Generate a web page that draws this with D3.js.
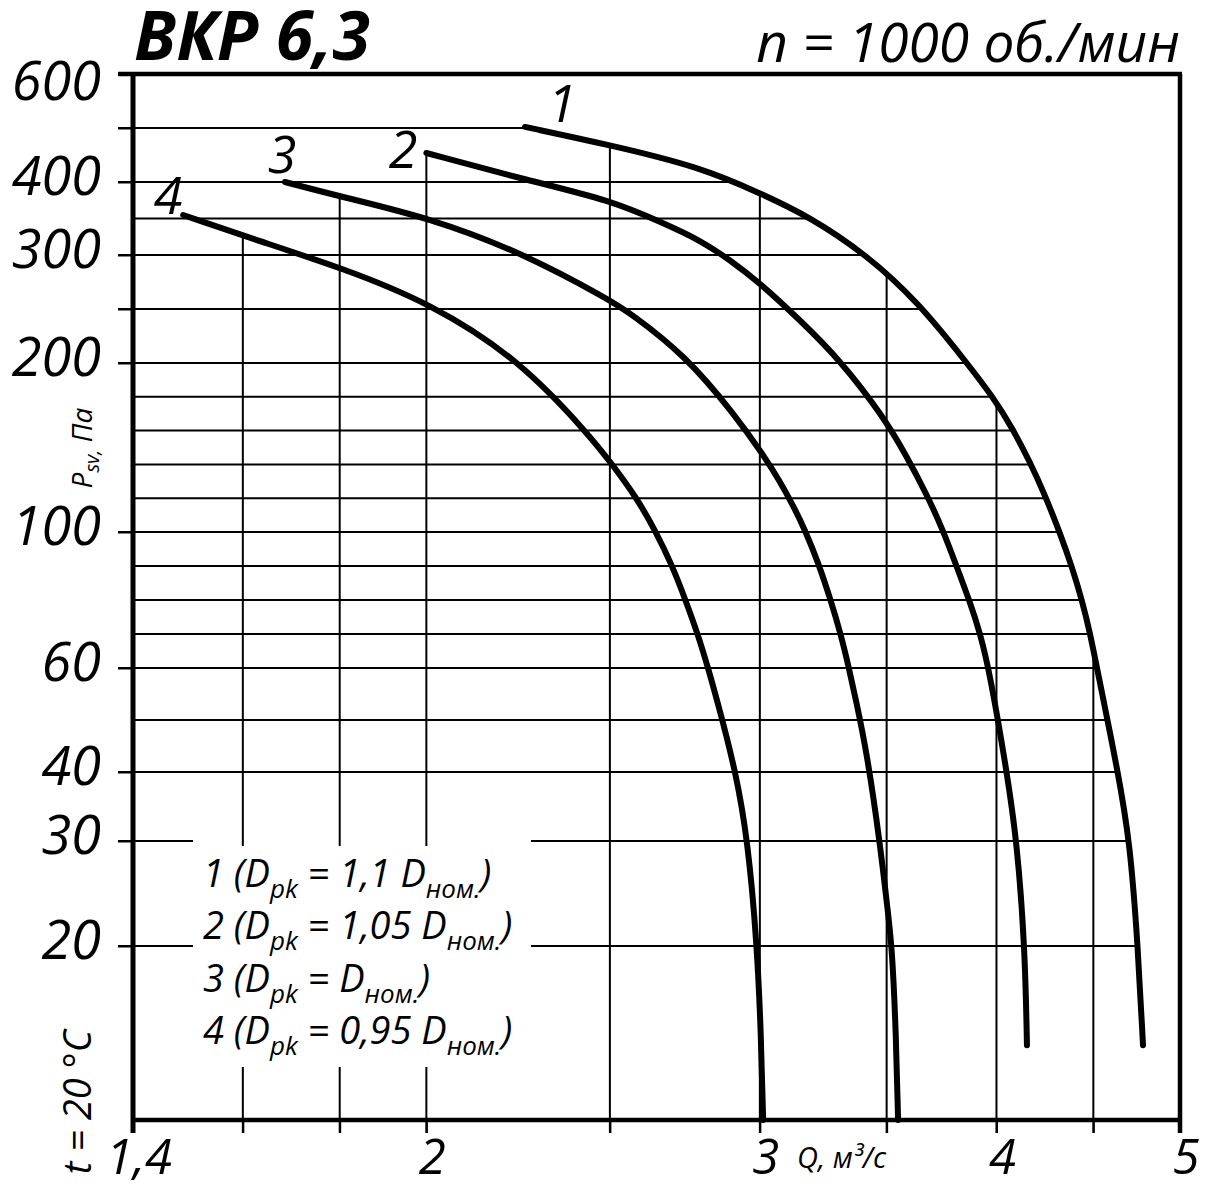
<!DOCTYPE html>
<html><head><meta charset="utf-8">
<script src="https://cdn.jsdelivr.net/npm/d3@7"></script>
<style>
html,body{margin:0;padding:0;background:#fff;}
svg{display:block;}
text{font-family:"Open Sans","Noto Sans",sans-serif;font-style:italic;fill:#000;white-space:pre;}
</style></head><body>
<svg id="chart" width="1210" height="1189"></svg>
<script>
// ---------- data ----------
const curveNames = ["1","2","3","4"];
const legendCoef = ["1,1 ","1,05 ","","0,95 "];

const q1 = [2.255,2.500,2.789,3.000,3.189,3.417,3.636,3.859,3.983,4.081,4.166,4.243,4.321,4.385,4.438,4.482,4.520,4.637,4.705,4.751,4.780];
const p1 = [502,468.5,427.8,384.9,352.1,300,256.5,200,179.9,160.9,141.4,121.9,99.7,89.7,80,70.3,60,40,29.9,19.9,14.3];

const q2 = [2.000,2.269,2.500,2.667,2.789,2.893,3.000,3.150,3.307,3.485,3.588,3.676,3.748,3.812,3.873,3.921,3.968,4.051,4.101,4.141,4.151];
const p2 = [453.7,401.9,375.3,343.8,320.5,295.4,274.1,239.8,202.8,168.6,144.4,121.9,101.2,89.7,79.4,70.3,59.0,40,29.9,19.9,14.3];

const q3 = [1.684,1.805,2.009,2.249,2.500,2.562,2.739,2.911,3.015,3.071,3.127,3.169,3.220,3.271,3.311,3.343,3.372,3.417,3.472,3.506,3.523,3.540,3.549];
const p3 = [400,379.5,350.7,302.7,258.3,246.3,207.4,169.2,145.0,130.8,114.8,101.2,91.2,79.7,69.7,60,53.8,43.7,29.8,23.1,19.9,15.0,10];

const q4 = [1.488,1.614,1.805,2.009,2.241,2.443,2.506,2.581,2.641,2.696,2.742,2.783,2.817,2.848,2.914,2.957,2.990,3.004,3.012];
const p4 = [354.8,323.3,288.0,255.6,202.8,156.2,140.2,120.7,101.2,90.3,79.7,69.7,60,53.8,40,29.9,20,15.0,10];

const labelQ = [2.359,1.944,1.678,1.461];
const labelP = [511,426,416,356];

const xTickLabels = [1.4,2,3,4,5];
const xGrid = [1.6,1.8,2,2.5,3,3.5,4,4.5];
const yTickLabels = [600,400,300,200,100,60,40,30,20];
const yGrid = [500,400,350,300,250,200,180,160,140,120,100,90,80,70,60,50,40,30,20];
const yStubs = [600,500,400,300,250,200,100,60,40,30,20];
const yCalibration = [600,400,300,200,100,60,40,30,20,10];

// ---------- layout ----------
const L=133, R=1180, T=74, B=1120;
const x = d3.scaleLog().domain([1.4,5]).range([L,R]);
const y = d3.scaleLinear().domain(yCalibration).range([74,182,255,363,532,668,772,841,946,1120]);
const gap = {x0:193, x1:531, y0:846, y1:1067};

const svg = d3.select('#chart');
const gGrid = svg.append('g').attr('stroke','#000').attr('stroke-width',2);
const gAxis = svg.append('g');
const gCurves = svg.append('g');
const gText = svg.append('g');

// ---------- curves ----------
const line = d3.line().x(d=>x(d[0])).y(d=>y(d[1])).curve(d3.curveBasis);
const series = [[q1,p1],[q2,p2],[q3,p3],[q4,p4]].map(([q,p])=>q.map((v,i)=>[v,p[i]]));
const paths = series.map(s=>gCurves.append('path').attr('d',line(s))
  .attr('fill','none').attr('stroke','#000').attr('stroke-width',6)
  .attr('stroke-linecap','round').attr('stroke-linejoin','round'));

const samples = paths.map(p=>{
  const n=p.node(), len=n.getTotalLength(), pts=[];
  for(let s=0;s<len;s+=0.5){const pt=n.getPointAtLength(s);pts.push({x:pt.x,y:pt.y});}
  const e=n.getPointAtLength(len);pts.push({x:e.x,y:e.y});
  return pts;
});
function crossings(c,val){
  const o = c==='x'?'y':'x', res=[];
  samples.forEach(pts=>{
    for(let i=1;i<pts.length;i++){
      const a=pts[i-1], b=pts[i];
      if((a[c]-val)*(b[c]-val)<=0 && a[c]!==b[c]){
        const t=(val-a[c])/(b[c]-a[c]); res.push(a[o]+t*(b[o]-a[o]));
      }
    }
    [pts[0],pts[pts.length-1]].forEach(p=>{ if(Math.abs(p[c]-val)<1.2) res.push(p[o]); });
  });
  return res;
}

// ---------- grid ----------
yGrid.forEach(v=>{
  const yy=y(v); const xs=crossings('y',yy);
  const xEnd = xs.length? d3.max(xs) : R;
  const xStart = yStubs.includes(v)? 118 : L;
  const segs = (yy>gap.y0-10 && yy<gap.y1) ? [[xStart,gap.x0],[gap.x1,xEnd]] : [[xStart,xEnd]];
  segs.forEach(s=>gGrid.append('line').attr('x1',s[0]).attr('x2',s[1]).attr('y1',yy).attr('y2',yy));
});
xGrid.forEach(v=>{
  const xx=x(v); const ys=crossings('x',xx);
  const yTop = ys.length? d3.min(ys) : T;
  const yBot = B+13;
  const segs = (xx>gap.x0 && xx<gap.x1) ? [[yTop,gap.y0],[gap.y1,yBot]] : [[yTop,yBot]];
  segs.forEach(s=>gGrid.append('line').attr('x1',xx).attr('x2',xx).attr('y1',s[0]).attr('y2',s[1]));
});

// ---------- axes ----------
const ax = gAxis.append('g').attr('transform',`translate(${L},0)`)
  .call(d3.axisLeft(y).tickValues(yStubs).tickSize(15).tickFormat(''));
ax.select('.domain').remove();
ax.selectAll('line').attr('stroke','#000').attr('stroke-width',2);
const bx = gAxis.append('g').attr('transform',`translate(0,${B})`)
  .call(d3.axisBottom(x).tickValues(xGrid).tickSize(13).tickFormat(''));
bx.select('.domain').remove();
bx.selectAll('line').attr('stroke','#000').attr('stroke-width',2);

gAxis.append('line').attr('x1',L).attr('x2',L).attr('y1',T-2).attr('y2',B+13).attr('stroke','#000').attr('stroke-width',5);
gAxis.append('line').attr('x1',118).attr('x2',R+2).attr('y1',T).attr('y2',T).attr('stroke','#000').attr('stroke-width',4.5);
gAxis.append('line').attr('x1',R).attr('x2',R).attr('y1',T).attr('y2',B+13).attr('stroke','#000').attr('stroke-width',4.5);
gAxis.append('line').attr('x1',L).attr('x2',R).attr('y1',B).attr('y2',B).attr('stroke','#000').attr('stroke-width',4.5);

// ---------- texts ----------
gText.selectAll('text.ylab').data(yTickLabels).join('text').attr('class','ylab')
  .attr('x',101).attr('y',d=>Math.max(y(d)+13,100)).attr('text-anchor','end')
  .attr('font-size',54).text(d=>String(d));
gText.selectAll('text.xlab').data(xTickLabels).join('text').attr('class','xlab')
  .attr('x',d=>x(d)+6).attr('y',1174).attr('text-anchor','middle')
  .attr('font-size',49).text(d=>String(d).replace('.',','));
gText.selectAll('text.clab').data(curveNames).join('text').attr('class','clab')
  .attr('x',(d,i)=>x(labelQ[i])).attr('y',(d,i)=>y(labelP[i])).attr('text-anchor','middle')
  .attr('font-size',52).text(d=>d);

gText.append('text').attr('x',134).attr('y',60).attr('font-size',68).attr('font-weight',700).text('ВКР 6,3');
gText.append('text').attr('x',1180).attr('y',62).attr('text-anchor','end').attr('font-size',55).text('n = 1000 об./мин');
gText.append('text').attr('x',797).attr('y',1168).attr('font-size',29).text('Q, м³/с');

const yt = gText.append('text').attr('transform','translate(92,448) rotate(-90)').attr('text-anchor','middle').attr('font-size',28);
yt.append('tspan').text('P');
yt.append('tspan').attr('font-size',20).attr('dy',7).text('sv,');
yt.append('tspan').attr('dy',-7).text(' Па');

gText.append('text').attr('transform','translate(91,1102) rotate(-90)').attr('text-anchor','middle').attr('font-size',38).text('t = 20 °C');

legendCoef.forEach((c,i)=>{
  const t = gText.append('text').attr('x',203).attr('y',887+i*52.4).attr('font-size',38);
  t.append('tspan').text(`${curveNames[i]} (D`);
  t.append('tspan').attr('font-size',26).attr('dy',11).text('pk');
  t.append('tspan').attr('dy',-11).text(` = ${c}D`);
  t.append('tspan').attr('font-size',26).attr('dy',11).text('ном.');
  t.append('tspan').attr('dy',-11).text(')');
});
</script>
</body></html>
